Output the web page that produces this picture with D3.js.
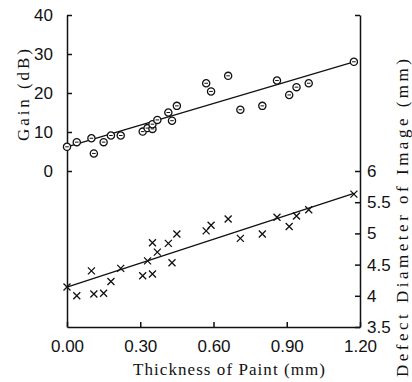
<!DOCTYPE html>
<html lang="en">
<head>
  <meta charset="UTF-8">
  <title>Gain and defect diameter vs paint thickness</title>
  <script src="https://cdn.jsdelivr.net/npm/d3@7"></script>
  <style>
    body { margin: 0; background: #fff; }
    .tick text { font-family: "Liberation Sans Narrow", "Arial Narrow", "Liberation Sans", sans-serif; font-size: 17px; fill: #111; }
    .title { font-family: "Liberation Serif", "DejaVu Serif", serif; font-size: 17px; fill: #111; }
  </style>
</head>
<body>
<script>
  // paint thickness (mm), shared by both series
  const thickness = [0.00, 0.04, 0.10, 0.11, 0.15, 0.18, 0.22, 0.31, 0.33, 0.35, 0.35, 0.37, 0.415,
    0.43, 0.45, 0.57, 0.59, 0.66, 0.71, 0.80, 0.86, 0.91, 0.94, 0.99, 1.175];
  // gain (dB), circles
  const gain = [6.2, 7.4, 8.4, 4.5, 7.4, 9.1, 9.1, 10.1, 11.0, 10.8, 12.0, 13.1, 15.0,
    12.9, 16.7, 22.5, 20.4, 24.4, 15.7, 16.7, 23.2, 19.5, 21.5, 22.5, 28.0];
  // defect diameter of image (mm), crosses
  const defect = [4.14, 4.00, 4.40, 4.03, 4.04, 4.23, 4.44, 4.32, 4.56, 4.35, 4.85, 4.70, 4.84,
    4.53, 4.99, 5.04, 5.13, 5.23, 4.92, 4.99, 5.26, 5.11, 5.28, 5.38, 5.63];
  // fitted lines (start and end)
  const gainFit = [[0, 6.2], [1.175, 28.0]];
  const defectFit = [[0, 4.14], [1.175, 5.64]];

  const xTicks = [0, 0.3, 0.6, 0.9, 1.2];
  const gainTicks = [0, 10, 20, 30, 40];
  const defectTicks = [3.5, 4, 4.5, 5, 5.5, 6, 8.5];

  const W = 412, H = 382;
  const m = { left: 67, right: 360, top: 15, bottom: 327 };

  const svg = d3.select("body").append("svg")
    .attr("width", W)
    .attr("height", H);

  const x = d3.scaleLinear().domain([0, 1.2]).range([m.left, m.right]);
  const yG = d3.scaleLinear().domain([-40, 40]).range([m.bottom, m.top]);
  const yD = d3.scaleLinear().domain([3.5, 8.5]).range([m.bottom, m.top]);

  const styleAxis = g => {
    g.selectAll("path, line").attr("stroke", "#111").attr("stroke-width", 1.5);
  };

  svg.append("g")
    .attr("transform", `translate(${m.left},0)`)
    .call(d3.axisLeft(yG).tickValues(gainTicks).tickSizeInner(-5).tickSizeOuter(0).tickPadding(14))
    .call(styleAxis);

  svg.append("g")
    .attr("transform", `translate(${m.right},0)`)
    .call(d3.axisRight(yD).tickValues(defectTicks).tickSizeInner(-5).tickSizeOuter(0).tickPadding(7)
      .tickFormat(d => d === 8.5 ? "" : d3.format("~g")(d)))
    .call(styleAxis);

  svg.append("g")
    .attr("transform", `translate(0,${m.bottom})`)
    .call(d3.axisBottom(x).tickValues(xTicks).tickSizeInner(-5).tickSizeOuter(0).tickPadding(13)
      .tickFormat(d3.format(".2f")))
    .call(styleAxis);

  // fit lines
  const lineG = d3.line().x(d => x(d[0])).y(d => yG(d[1]));
  const lineD = d3.line().x(d => x(d[0])).y(d => yD(d[1]));
  svg.append("path").attr("d", lineG(gainFit)).attr("fill", "none").attr("stroke", "#111").attr("stroke-width", 1.3);
  svg.append("path").attr("d", lineD(defectFit)).attr("fill", "none").attr("stroke", "#111").attr("stroke-width", 1.3);

  // gain markers
  const circ = svg.append("g").selectAll("g")
    .data(thickness.map((t, i) => [t, gain[i]]))
    .join("g")
    .attr("transform", d => `translate(${x(d[0])},${yG(d[1])})`);
  circ.append("circle").attr("r", 3.6).attr("fill", "#fff").attr("stroke", "#111").attr("stroke-width", 1.3);
  circ.append("line").attr("x1", -1.8).attr("x2", 1.8).attr("stroke", "#111").attr("stroke-width", 1);

  // defect markers
  const s = 3.5;
  svg.append("g").selectAll("path")
    .data(thickness.map((t, i) => [t, defect[i]]))
    .join("path")
    .attr("transform", d => `translate(${x(d[0])},${yD(d[1])})`)
    .attr("d", `M${-s},${-s}L${s},${s}M${-s},${s}L${s},${-s}`)
    .attr("stroke", "#111")
    .attr("stroke-width", 1.3);

  // titles, spread out to the typewriter-like spacing of the original
  svg.append("text").attr("class", "title")
    .attr("x", 133).attr("y", 375)
    .attr("textLength", 192).attr("lengthAdjust", "spacing")
    .text("Thickness of Paint (mm)");

  svg.append("text").attr("class", "title")
    .attr("transform", "translate(23,95) rotate(-90)")
    .attr("x", -46).attr("dy", "0.35em")
    .attr("textLength", 92).attr("lengthAdjust", "spacing")
    .text("Gain (dB)");

  svg.append("text").attr("class", "title")
    .attr("transform", "translate(402,218) rotate(-90)")
    .attr("x", -159).attr("dy", "0.35em")
    .attr("textLength", 318).attr("lengthAdjust", "spacing")
    .text("Defect Diameter of Image (mm)");
</script>
</body>
</html>
